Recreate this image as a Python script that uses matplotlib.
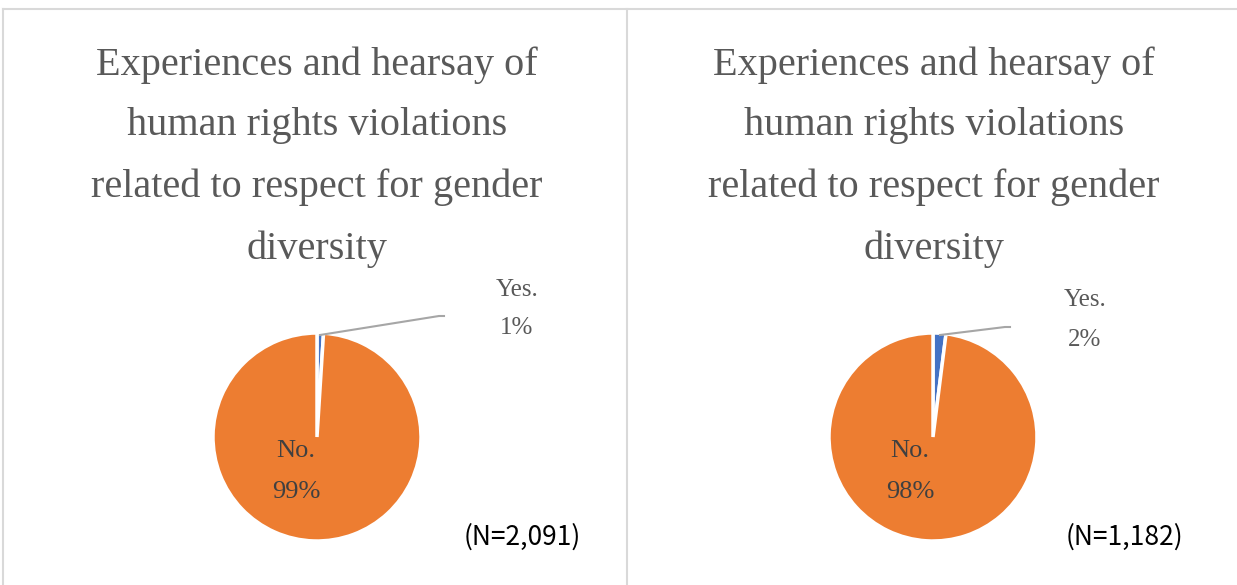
import matplotlib
matplotlib.use("Agg")
import matplotlib.pyplot as plt
from matplotlib.lines import Line2D

W, H = 1237, 585
title = "Experiences and hearsay of\nhuman rights violations\nrelated to respect for gender\ndiversity"
categories = ["Yes.", "No."]
yes_vals = [1, 2]
no_vals = [99, 98]
n_labels = ["(N=2,091)", "(N=1,182)"]
colors = ["#4472C4", "#ED7D31"]

fig = plt.figure(figsize=(W/100, H/100), dpi=100)

def fx(x): return x / W
def fy(y): return 1 - y / H

# panel borders
grey = "#D9D9D9"
fig.add_artist(Line2D([fx(3), fx(1237)], [fy(9), fy(9)], color=grey, lw=1.5))
fig.add_artist(Line2D([fx(3), fx(3)], [fy(9), fy(585)], color=grey, lw=1.5))
fig.add_artist(Line2D([fx(627), fx(627)], [fy(9), fy(585)], color=grey, lw=1.5))

centers = [(317, 437), (933, 437)]
R = 104
label_pos = [((517, 290), (517, 328)), ((1085, 300), (1085, 340))]
leader_end = [(444, 316), (1010, 327)]
no_pos = [(296, 468), (910, 468)]
title_x = [317, 934]
n_pos = [(522, 537), (1124, 537)]

for i in range(2):
    cx, cy = centers[i]
    ax = fig.add_axes([fx(cx - R), fy(cy + R), 2*R/W, 2*R/H])
    vals = [yes_vals[i], no_vals[i]]
    ax.pie(vals, colors=colors, startangle=90, counterclock=False,
           wedgeprops=dict(edgecolor="white", linewidth=2.5))
    ax.set_xlim(-1, 1); ax.set_ylim(-1, 1)
    ax.set_aspect("auto")
    ax.axis("off")
    # title
    fig.text(fx(title_x[i]), fy(157), title, ha="center", va="center",
             multialignment="center",
             fontsize=29, family="Liberation Serif", color="#595959",
             linespacing=1.85)
    # yes label
    (x1, y1), (x2, y2) = label_pos[i]
    fig.text(fx(x1), fy(y1), categories[0], ha="center", va="center",
             fontsize=18, family="Liberation Serif", color="#595959")
    fig.text(fx(x2), fy(y2), f"{yes_vals[i]}%", ha="center", va="center",
             fontsize=18, family="Liberation Serif", color="#595959")
    # leader line
    ex, ey = leader_end[i]
    fig.add_artist(Line2D([fx(cx + 3 + i*4), fx(ex - 5), fx(ex)],
                          [fy(cy - R + 2), fy(ey), fy(ey)],
                          color="#A6A6A6", lw=1.5))
    # No label
    nx, ny = no_pos[i]
    fig.text(fx(nx), fy(ny - 17), categories[1], ha="center", va="center",
             fontsize=19, family="Liberation Serif", color="#404040")
    fig.text(fx(nx), fy(ny + 24), f"{no_vals[i]}%", ha="center", va="center",
             fontsize=19, family="Liberation Serif", color="#404040")
    # N label
    px, py = n_pos[i]
    fig.text(fx(px), fy(py), n_labels[i], ha="center", va="center",
             fontsize=19, family="Noto Sans CJK JP", color="black")

fig.savefig("out.png", dpi=100)
